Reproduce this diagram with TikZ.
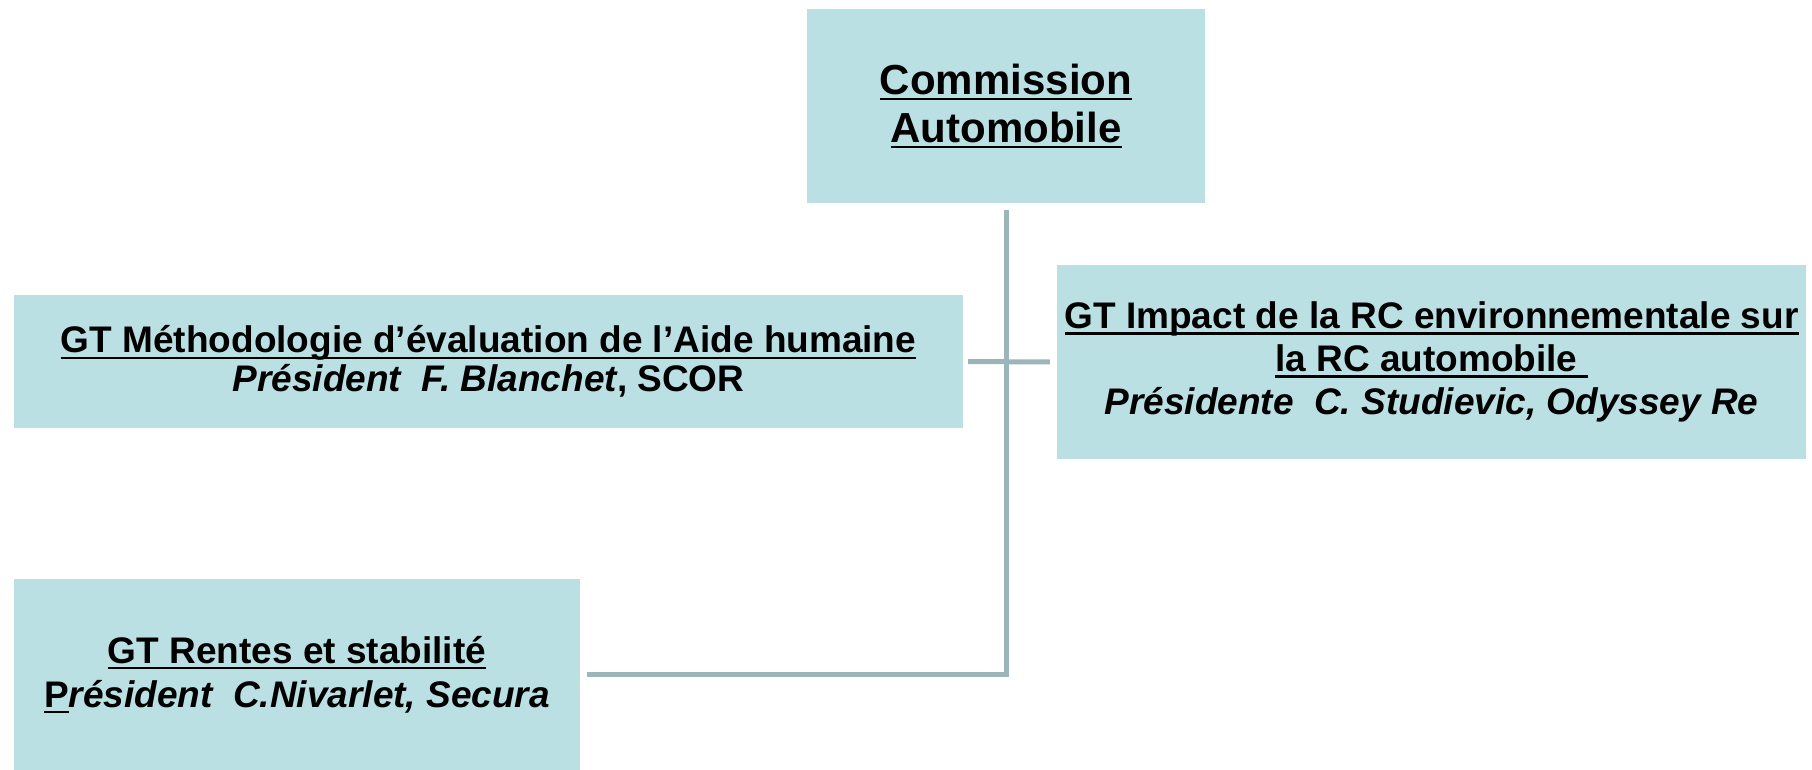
\documentclass[tikz,border=0pt]{standalone}
\usepackage{fontspec}
\setmainfont{Liberation Sans}
\definecolor{boxfill}{RGB}{187,224,228}
\definecolor{connline}{RGB}{155,181,185}
\newcommand\myul[1]{\setbox0\hbox{#1}\rlap{\rule[-6pt]{\wd0}{2.2pt}}\box0}
\begin{document}
\begin{tikzpicture}[x=1pt,y=-1pt,
  box/.style={fill=boxfill, draw=none, inner sep=0pt, align=center},
  conn/.style={draw=connline, line width=5pt}]
\useasboundingbox (0,0) rectangle (1812,770);
\node[box, minimum width=398pt, minimum height=194pt,
  font=\bfseries\fontsize{42}{48}\selectfont] (top) at (1006,106)
  {\myul{Commission}\\\myul{Automobile}};
\node[box, minimum width=949pt, minimum height=133pt,
  font=\bfseries\fontsize{37}{39}\selectfont] (left) at (488.5,361.5)
  {\myul{GT Méthodologie d’évaluation de l’Aide humaine}\\{\itshape Président\ \ F. Blanchet}, SCOR};
\node[box, minimum width=749pt, minimum height=194pt,
  font=\bfseries\fontsize{37}{43}\selectfont] (right) at (1431.5,362)
  {\myul{GT Impact de la RC environnementale sur}\\\myul{la RC automobile\ }\\{\itshape Présidente\ \ C. Studievic, Odyssey Re}};
\node[box, minimum width=566pt, minimum height=191pt,
  font=\bfseries\fontsize{37}{44}\selectfont] (bot) at (297,674.5)
  {\myul{GT Rentes et stabilité}\\\myul{P}{\itshape résident\ \ C.Nivarlet, Secura}};
\draw[conn] ([yshift=-7pt]top.south) |- ([xshift=7pt]bot.east);
\draw[conn] ([xshift=5pt]left.east) -- ([xshift=-7pt]right.west);
\end{tikzpicture}
\end{document}
